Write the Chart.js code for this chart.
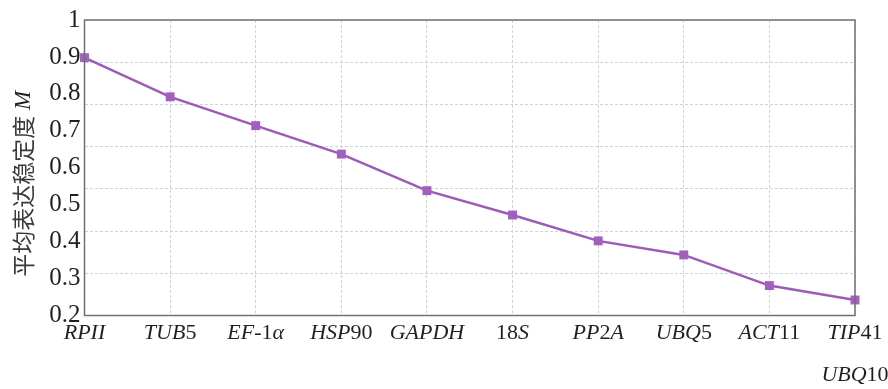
<!DOCTYPE html>
<html>
<head>
<meta charset="utf-8">
<script src="https://cdn.jsdelivr.net/npm/chart.js@4.4.1/dist/chart.umd.min.js"></script>
<style>
  html, body { margin: 0; padding: 0; background: #fff; }
</style>
</head>
<body>
<canvas id="stabilityChart" width="888" height="389"></canvas>
<script>
// gene names (last tick holds two tied genes)
const genes = [['RPII'], ['TUB5'], ['EF-1α'], ['HSP90'], ['GAPDH'], ['18S'], ['PP2A'], ['UBQ5'], ['ACT11'], ['TIP41', 'UBQ10']];
// average expression stability M
const stabilityM = [0.898, 0.792, 0.714, 0.637, 0.538, 0.472, 0.402, 0.364, 0.281, 0.242];
const yTitleCn = '平均表达稳定度';
const yTitleSymbol = 'M';
const yMin = 0.2, yMax = 1, yStep = 0.1;
const gridRows = 7; // the grid in the figure is split in 7, not on the tick labels

const serif = '"Liberation Serif", "Times New Roman", serif';
const textColor = '#231f20';

// digits and hyphens upright, letters italic
function drawMixed(ctx, text, cx, cy, size) {
  const parts = text.match(/[0-9\-]+|[^0-9\-]+/g);
  const fonts = parts.map(p => (/^[0-9\-]/.test(p) ? '' : 'italic ') + size + 'px ' + serif);
  const widths = parts.map((p, i) => { ctx.font = fonts[i]; return ctx.measureText(p).width; });
  let x = cx - widths.reduce((a, b) => a + b, 0) / 2;
  parts.forEach((p, i) => {
    ctx.font = fonts[i];
    ctx.fillText(p, x, cy);
    x += widths[i];
  });
}

const labelsPlugin = {
  id: 'mixedLabels',
  afterDraw(chart) {
    const { ctx, chartArea, scales } = chart;
    ctx.save();
    // frame
    ctx.strokeStyle = '#6d7175';
    ctx.lineWidth = 1.5;
    ctx.strokeRect(chartArea.left, chartArea.top, chartArea.right - chartArea.left, chartArea.bottom - chartArea.top);

    // category labels
    ctx.fillStyle = textColor;
    ctx.textBaseline = 'middle';
    ctx.textAlign = 'left';
    genes.forEach((lines, i) => {
      const x = scales.x.getPixelForValue(i);
      lines.forEach((line, j) => drawMixed(ctx, line, x, chartArea.bottom + 18 + j * 42, 22));
    });

    // y title, rotated
    ctx.translate(23, (chartArea.top + chartArea.bottom) / 2 + 16);
    ctx.rotate(-Math.PI / 2);
    const cnFont = '23px "Noto Sans CJK SC", sans-serif';
    const mFont = 'italic 23px ' + serif;
    ctx.font = cnFont;
    const wCn = ctx.measureText(yTitleCn).width;
    ctx.font = mFont;
    const wM = ctx.measureText(' ' + yTitleSymbol).width;
    let x = -(wCn + wM) / 2;
    ctx.font = cnFont;
    ctx.fillStyle = '#3a3a3a';
    ctx.fillText(yTitleCn, x, 0);
    ctx.font = mFont;
    ctx.fillStyle = textColor;
    ctx.fillText(' ' + yTitleSymbol, x + wCn, 1);
    ctx.restore();
  }
};

const ctx = document.getElementById('stabilityChart');

new Chart(ctx, {
  type: 'line',
  data: {
    labels: genes.map(g => g.join(' ')),
    datasets: [{
      data: stabilityM,
      borderColor: '#9d5ab8',
      backgroundColor: '#a35fc0',
      borderWidth: 2.5,
      pointStyle: 'rect',
      pointRadius: 6.3,
      pointBorderWidth: 0,
      tension: 0,
      clip: false
    }]
  },
  options: {
    responsive: false,
    animation: false,
    layout: { padding: { top: 20, right: 33, left: 0, bottom: 0 } },
    plugins: {
      legend: { display: false },
      tooltip: { enabled: false }
    },
    scales: {
      x: {
        ticks: { display: false },
        grid: {
          color: '#cdd3da',
          lineWidth: 1,
          drawTicks: false
        },
        border: { display: false, dash: [3, 2] },
        afterFit(scale) { scale.height = 73.5; }
      },
      y: {
        min: yMin,
        max: yMax,
        ticks: {
          stepSize: yStep,
          padding: -4,
          color: textColor,
          font: { family: serif, size: 25 },
          callback: v => Number(v.toFixed(1)).toString()
        },
        grid: { display: false },
        border: { display: false },
        afterFit(scale) { scale.width = 84.5; }
      },
      yGrid: {
        position: 'left',
        min: 0,
        max: gridRows,
        ticks: { display: false, stepSize: 1 },
        grid: { color: '#cdd3da', lineWidth: 1, drawTicks: false },
        border: { display: false, dash: [3, 2] },
        afterFit(scale) { scale.width = 0; }
      }
    }
  },
  plugins: [labelsPlugin]
});
</script>
</body>
</html>
